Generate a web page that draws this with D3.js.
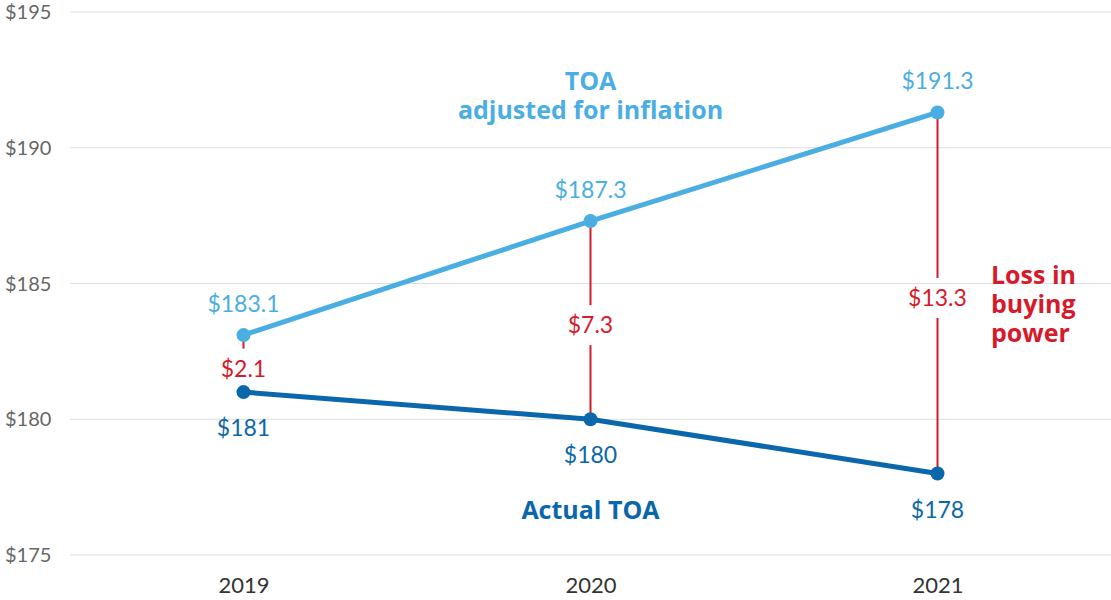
<!DOCTYPE html>
<html>
<head>
<meta charset="utf-8">
<script src="https://cdn.jsdelivr.net/npm/d3@7"></script>
<style>
  body { margin: 0; background: #fff; }
  svg { display: block; font-family: Lato, "Open Sans", sans-serif; }
</style>
</head>
<body>
<div id="viz"></div>
<script>
// chart data
var years = ['2019', '2020', '2021']
var adjusted = [183.1, 187.3, 191.3]
var actual = [181, 180, 178]
var losses = ['$2.1', '$7.3', '$13.3']
var yTicks = [175, 180, 185, 190, 195]

var width = 1111,
  height = 600

var lightBlue = '#4aaee2',
  darkBlue = '#0b67ab',
  red = '#d71a2b'

var svg = d3
  .select('#viz')
  .append('svg')
  .attr('width', width)
  .attr('height', height)

var x = d3
  .scalePoint()
  .domain(years)
  .range([70, 1111])
  .padding(0.5)

var y = d3
  .scaleLinear()
  .domain([175, 195])
  .range([555, 12])

// grid lines + left labels
svg
  .selectAll('.grid')
  .data(yTicks)
  .enter()
  .append('line')
  .attr('x1', 70)
  .attr('x2', width)
  .attr('y1', function(d) { return y(d) })
  .attr('y2', function(d) { return y(d) })
  .attr('stroke', '#dedede')
  .attr('stroke-width', 1)

svg
  .selectAll('.ylab')
  .data(yTicks)
  .enter()
  .append('text')
  .attr('x', 5)
  .attr('y', function(d) { return y(d) + 7 })
  .attr('font-size', 20)
  .attr('fill', '#666')
  .text(function(d) { return '$' + d })

// year axis
var xAxis = svg
  .append('g')
  .attr('transform', 'translate(0,' + 577 + ')')
  .call(d3.axisBottom(x).tickSize(0).tickPadding(0))
xAxis.select('.domain').remove()
xAxis
  .selectAll('text')
  .attr('font-size', 22)
  .attr('font-family', 'Lato, sans-serif')
  .attr('fill', '#333')
  .attr('dy', '0.71em')

// red loss connectors, split around the label
var gap = 20
years.forEach(function(yr, i) {
  var top = y(adjusted[i]),
    bot = y(actual[i]),
    mid = (top + bot) / 2 + 5
  svg
    .append('line')
    .attr('x1', x(yr)).attr('x2', x(yr))
    .attr('y1', top).attr('y2', mid - gap)
    .attr('stroke', red).attr('stroke-width', 2)
  svg
    .append('line')
    .attr('x1', x(yr)).attr('x2', x(yr))
    .attr('y1', mid + gap).attr('y2', bot)
    .attr('stroke', red).attr('stroke-width', 2)
  svg
    .append('text')
    .attr('x', x(yr))
    .attr('y', mid + 8)
    .attr('text-anchor', 'middle')
    .attr('font-size', 23)
    .attr('fill', red)
    .text(losses[i])
})

// the two lines
var line = d3
  .line()
  .x(function(d, i) { return x(years[i]) })
  .y(function(d) { return y(d) })

var series = [
  { values: adjusted, color: lightBlue, dy: -23 },
  { values: actual, color: darkBlue, dy: 44 }
]

series.forEach(function(s) {
  svg
    .append('path')
    .attr('d', line(s.values))
    .attr('fill', 'none')
    .attr('stroke', s.color)
    .attr('stroke-width', 5)

  svg
    .selectAll(null)
    .data(s.values)
    .enter()
    .append('circle')
    .attr('cx', function(d, i) { return x(years[i]) })
    .attr('cy', function(d) { return y(d) })
    .attr('r', 7)
    .attr('fill', s.color)

  svg
    .selectAll(null)
    .data(s.values)
    .enter()
    .append('text')
    .attr('x', function(d, i) { return x(years[i]) })
    .attr('y', function(d) { return y(d) + s.dy })
    .attr('text-anchor', 'middle')
    .attr('font-size', 23)
    .attr('fill', s.color)
    .text(function(d) { return '$' + d })
})

// annotations
function note(lines, xx, yy, color, anchor) {
  var t = svg
    .append('text')
    .attr('text-anchor', anchor)
    .attr('font-family', '"Open Sans", sans-serif')
    .attr('font-size', 25)
    .attr('font-weight', 700)
    .attr('fill', color)
  lines.forEach(function(l, i) {
    t.append('tspan')
      .attr('x', xx)
      .attr('y', yy + i * 29)
      .text(l)
  })
}

note(['TOA', 'adjusted for inflation'], x('2020'), 90, lightBlue, 'middle')
note(['Actual TOA'], x('2020'), 519, darkBlue, 'middle')
note(['Loss in', 'buying', 'power'], 991, 284, red, 'start')
</script>
</body>
</html>
